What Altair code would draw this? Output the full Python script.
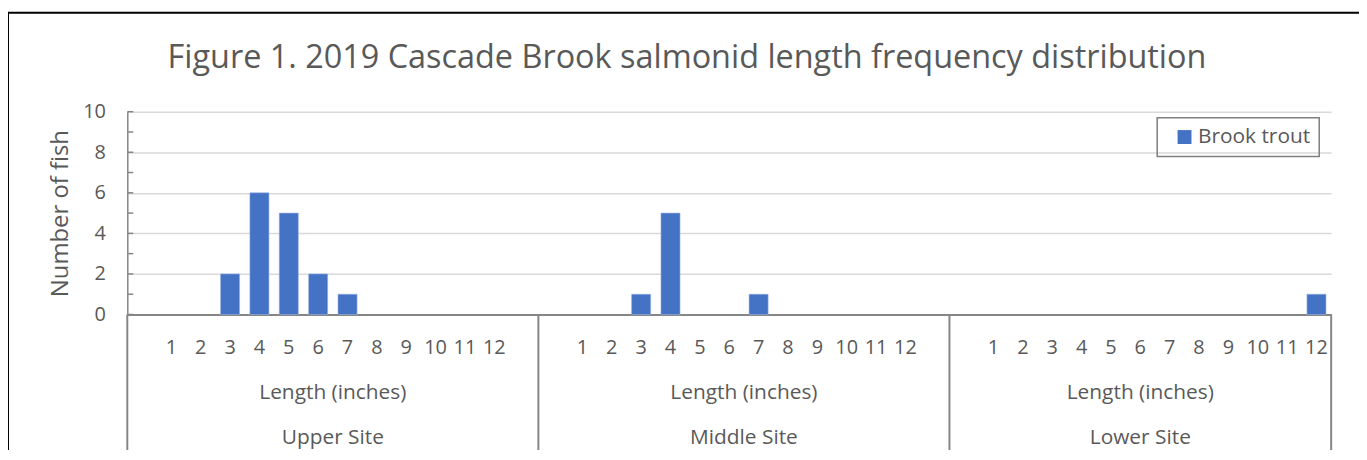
import altair as alt
import pandas as pd

title_text = "Figure 1. 2019 Cascade Brook salmonid length frequency distribution"
sites = ["Upper Site", "Middle Site", "Lower Site"]
lengths = [1, 2, 3, 4, 5, 6, 7, 8, 9, 10, 11, 12]
upper_counts = [0, 0, 2, 6, 5, 2, 1, 0, 0, 0, 0, 0]
middle_counts = [0, 0, 1, 5, 0, 0, 1, 0, 0, 0, 0, 0]
lower_counts = [0, 0, 0, 0, 0, 0, 0, 0, 0, 0, 0, 1]
lead_blank = [1, 1, 1]
trail_blank = [1, 1, 0]
species = "Brook trout"
y_ticks = [0, 2, 4, 6, 8, 10]
minor_ticks = [0, 1, 2, 3, 4, 5, 6, 7, 8, 9, 10]
x_title = "Length (inches)"
y_title = "Number of fish"

W, H = 1211, 204
FONT = "Open Sans"
TXT = "#595959"
AXC = "#868686"

domain = []
bounds = [0]
for site, lb, tb in zip(sites, lead_blank, trail_blank):
    domain += [f"{site}|" + " " * (i + 1) for i in range(lb)]
    domain += [f"{site}|{n}" for n in lengths]
    domain += [f"{site}|" + " " * (lb + i + 1) for i in range(tb)]
    bounds.append(bounds[-1] + lb + len(lengths) + tb)

rows = []
for site, counts in zip(sites, [upper_counts, middle_counts, lower_counts]):
    for n, c in zip(lengths, counts):
        rows.append({"key": f"{site}|{n}", "count": c, "species": species})
bar_df = pd.DataFrame(rows)

grp_df = pd.DataFrame({
    "site": sites,
    "center": [(a + b) / 2 for a, b in zip(bounds[:-1], bounds[1:])],
})
sep_df = pd.DataFrame({"pos": bounds})
tick_df = pd.DataFrame({"count": minor_ticks})

xq = alt.Scale(domain=[0, bounds[-1]], nice=False, zero=False)


def y_enc():
    return alt.Y(
        "count:Q",
        scale=alt.Scale(domain=[0, 10], nice=False),
        axis=alt.Axis(
            title=y_title, values=y_ticks, grid=True, gridColor="#d9d9d9",
            gridWidth=1.5, ticks=False, tickSize=0, labelPadding=22,
            domainColor=AXC, domainWidth=1.5,
            labelFont=FONT, labelFontSize=20, labelColor=TXT,
            titleFont=FONT, titleFontSize=24, titleColor=TXT,
            titleFontWeight="normal", titleAngle=270, titleX=-60, titleY=H / 2,
            titleBaseline="alphabetic", titleAlign="center",
        ),
    )


border = alt.Chart(pd.DataFrame({"a": [0]})).mark_rect(
    fillOpacity=0, stroke="black", strokeWidth=2
).encode(
    x=alt.value(-120), x2=alt.value(W + 200),
    y=alt.value(-99.5), y2=alt.value(H + 300),
)

title = alt.Chart(pd.DataFrame({"t": [title_text]})).mark_text(
    font=FONT, fontSize=32.6, color=TXT, baseline="alphabetic", align="center"
).encode(x=alt.value(563), y=alt.value(-44), text="t:N")

bars = alt.Chart(bar_df).transform_filter("datum.count > 0").mark_bar(
    stroke="#9db5e3", strokeWidth=0.6
).encode(
    x=alt.X(
        "key:N",
        scale=alt.Scale(domain=domain, paddingInner=0.35, paddingOuter=0.175),
        axis=alt.Axis(
            title=None, labelAngle=0, labelOverlap=False, labelBound=False,
            labelExpr="trim(split(datum.value, '|')[1])",
            ticks=False, tickSize=0, labelPadding=23,
            domainColor=AXC, domainWidth=2,
            labelFont=FONT, labelFontSize=20, labelColor=TXT,
        ),
    ),
    y=y_enc(),
    color=alt.Color(
        "species:N",
        scale=alt.Scale(range=["#4472C4"]),
        legend=alt.Legend(
            title=None, orient="none", legendX=1036, legendY=6,
            strokeColor="#7f7f7f", padding=9, symbolType="square",
            symbolSize=196, symbolStrokeWidth=0, symbolOffset=8,
            labelOffset=3, labelFont=FONT, labelFontSize=21,
            labelColor=TXT, labelExpr="datum.label + '\u00a0\u00a0'",
        ),
    ),
)

minor = alt.Chart(tick_df).mark_rule(color=AXC, strokeWidth=1.5).encode(
    y=y_enc(), x=alt.value(0), x2=alt.value(6)
)

sep = alt.Chart(sep_df).mark_rule(color=AXC, strokeWidth=2).encode(
    x=alt.X("pos:Q", scale=xq, axis=None),
    y=alt.value(H), y2=alt.value(H + 140),
)

t_len = alt.Chart(grp_df).mark_text(
    font=FONT, fontSize=21, color=TXT, baseline="alphabetic", align="center"
).encode(
    x=alt.X("center:Q", scale=xq, axis=None),
    y=alt.value(289),
    text=alt.value(x_title),
)

t_site = alt.Chart(grp_df).mark_text(
    font=FONT, fontSize=21, color=TXT, baseline="alphabetic", align="center"
).encode(
    x=alt.X("center:Q", scale=xq, axis=None),
    y=alt.value(334),
    text="site:N",
)

chart = alt.layer(border, title, bars, minor, sep, t_len, t_site).resolve_scale(
    x="independent"
).properties(
    width=W, height=H,
    padding={"left": 120, "top": 103, "right": 28, "bottom": 135},
    autosize=alt.AutoSizeParams(type="none"),
).configure_view(stroke=None).configure_legend(strokeWidth=1.5)

chart.save("out.html", embed_options={"renderer": "svg", "actions": False})
